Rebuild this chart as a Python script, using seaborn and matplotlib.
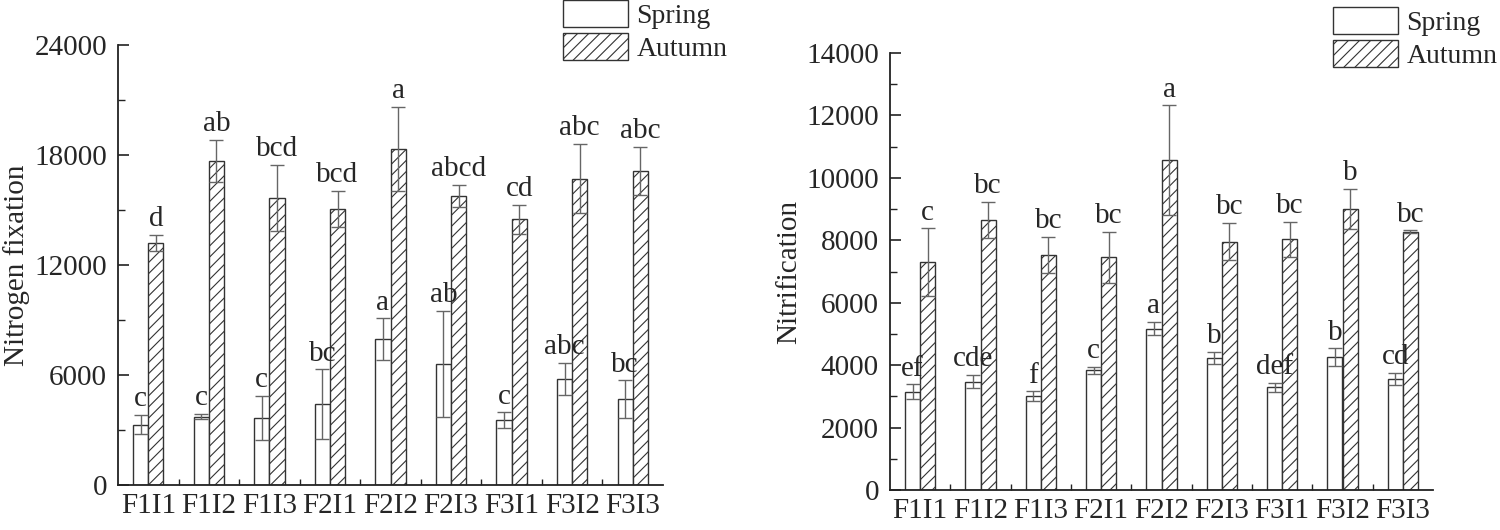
import matplotlib
matplotlib.use("Agg")
import matplotlib.pyplot as plt
import seaborn as sns
import pandas as pd
import numpy as np
from matplotlib.ticker import MultipleLocator, FixedLocator

sns.set_style("ticks")
plt.rcParams["font.family"] = ["Liberation Serif", "DejaVu Serif"]
plt.rcParams["hatch.color"] = "#555555"
plt.rcParams["hatch.linewidth"] = 0.8

treatments = ["F1I1", "F1I2", "F1I3", "F2I1", "F2I2", "F2I3", "F3I1", "F3I2", "F3I3"]
seasons = ["Spring", "Autumn"]

# Nitrogen fixation
nf_spring = [3300, 3730, 3640, 4420, 7950, 6600, 3530, 5780, 4690]
nf_spring_err = [540, 130, 1200, 1890, 1140, 2890, 430, 860, 1020]
nf_autumn = [13200, 17690, 15640, 15070, 18330, 15780, 14490, 16710, 17130]
nf_autumn_err = [450, 1150, 1800, 980, 2310, 600, 780, 1890, 1330]
nf_spring_lab = ["c", "c", "c", "bc", "a", "ab", "c", "abc", "bc"]
nf_autumn_lab = ["d", "ab", "bcd", "bcd", "a", "abcd", "cd", "abc", "abc"]

# Nitrification
ni_spring = [3150, 3470, 3010, 3840, 5170, 4240, 3290, 4250, 3560]
ni_spring_err = [230, 210, 150, 110, 220, 190, 150, 290, 200]
ni_autumn = [7290, 8660, 7530, 7450, 10560, 7960, 8030, 9010, 8280]
ni_autumn_err = [1090, 580, 580, 830, 1760, 600, 570, 640, 40]
ni_spring_lab = ["ef", "cde", "f", "c", "a", "b", "def", "b", "cd"]
ni_autumn_lab = ["c", "bc", "bc", "bc", "a", "bc", "bc", "b", "bc"]

FS = 21
LFS = 20
EDGE = "#333333"
ECOL = "#666666"

fig = plt.figure(figsize=(15, 5.3), dpi=100)
ax1 = fig.add_axes([118 / 1500, 1 - 485 / 530, (663 - 118) / 1500, (485 - 45) / 530])
ax2 = fig.add_axes([890 / 1500, 1 - 490 / 530, (1433 - 890) / 1500, (490 - 53) / 530])


def panel(ax, sp, sp_err, au, au_err, sp_lab, au_lab, ymax, major, ylabel, leg_xy):
    df = pd.DataFrame({
        "treatment": treatments * 2,
        "season": ["Spring"] * len(treatments) + ["Autumn"] * len(treatments),
        "value": list(sp) + list(au),
    })
    sns.barplot(data=df, x="treatment", y="value", hue="season",
                order=treatments, hue_order=seasons, width=0.5,
                palette={"Spring": "white", "Autumn": "white"}, saturation=1,
                edgecolor=EDGE, linewidth=1.0, errorbar=None, legend=False, ax=ax)
    for p in ax.containers[1].patches:
        p.set_hatch("///")
    for cont, vals, errs, labs in [(ax.containers[0], sp, sp_err, sp_lab),
                                   (ax.containers[1], au, au_err, au_lab)]:
        xs = [p.get_x() + p.get_width() / 2 for p in cont.patches]
        ax.errorbar(xs, vals, yerr=errs, fmt="none", ecolor=ECOL, elinewidth=1.0,
                    capsize=5, capthick=1.0, zorder=3)
        for x, v, e, l in zip(xs, vals, errs, labs):
            ax.annotate(l, (x, v + e), xytext=(0, 2), textcoords="offset points",
                        ha="center", va="bottom", fontsize=FS, zorder=4)
    ax.set_xlim(-0.5, len(treatments) - 0.5)
    ax.set_ylim(0, ymax)
    ax.yaxis.set_major_locator(MultipleLocator(major))
    ax.yaxis.set_minor_locator(MultipleLocator(major / 2))
    ax.xaxis.set_minor_locator(FixedLocator(np.arange(0.5, len(treatments) - 0.5, 1)))
    ax.tick_params(axis="y", which="major", direction="in", length=8, width=1.2,
                   labelsize=FS, pad=8, color="#222222")
    ax.tick_params(axis="y", which="minor", direction="in", length=5, width=1.0, color="#222222")
    ax.tick_params(axis="x", which="major", length=0, labelsize=FS, pad=6)
    ax.tick_params(axis="x", which="minor", direction="in", length=4, width=1.0, color="#222222")
    ax.set_xlabel("")
    ax.set_ylabel(ylabel, fontsize=FS, labelpad=3)
    for s in ["top", "right"]:
        ax.spines[s].set_visible(False)
    for s in ["left", "bottom"]:
        ax.spines[s].set_linewidth(1.3)
        ax.spines[s].set_color("#222222")
    ax.legend(handles=[ax.containers[0], ax.containers[1]], labels=seasons,
              loc="upper left", bbox_to_anchor=leg_xy, bbox_transform=fig.transFigure,
              frameon=False, fontsize=LFS, borderpad=0, borderaxespad=0,
              handlelength=2.35, handleheight=1.12, labelspacing=0.15,
              handletextpad=0.3)


panel(ax1, nf_spring, nf_spring_err, nf_autumn, nf_autumn_err,
      nf_spring_lab, nf_autumn_lab, 24000, 6000, "Nitrogen fixation", (563 / 1500, 1.0))
panel(ax2, ni_spring, ni_spring_err, ni_autumn, ni_autumn_err,
      ni_spring_lab, ni_autumn_lab, 14000, 2000, "Nitrification", (1333 / 1500, 1 - 7 / 530))

fig.savefig("out.png", dpi=100)
